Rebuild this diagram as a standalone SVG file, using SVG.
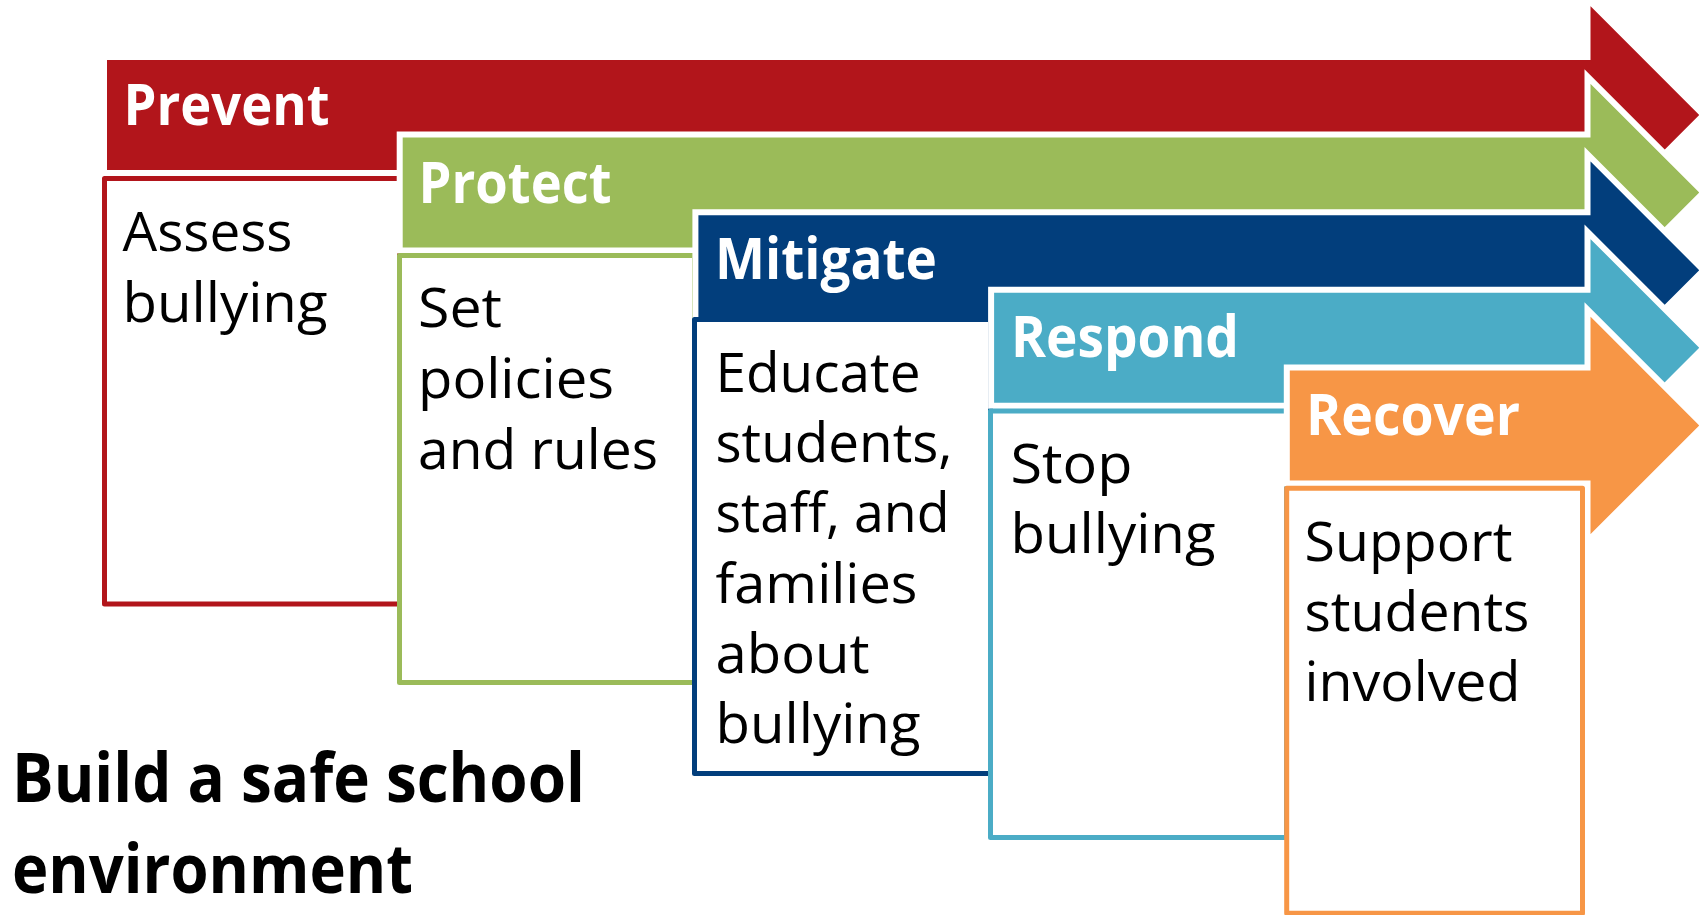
<svg xmlns="http://www.w3.org/2000/svg" width="1699" height="915" viewBox="0 0 1699 915">
<style>
.arrow{stroke:#FFFFFF;stroke-width:6;stroke-linejoin:miter}
.box{fill:#FFFFFF;stroke-width:5;stroke-linejoin:round}
.hd{font-family:"Open Sans","Noto Sans","Liberation Sans",sans-serif;font-weight:bold;font-size:58px;fill:#FFFFFF}
.bd{font-family:"Open Sans","Noto Sans","Liberation Sans",sans-serif;font-size:55px;fill:#000000}
.tt{font-family:"Open Sans","Noto Sans","Liberation Sans",sans-serif;font-weight:bold;font-size:68px;fill:#000000}
.red{fill:#B2151B}.redS{stroke:#B2151B}
.grn{fill:#9BBB59}.grnS{stroke:#9BBB59}
.blu{fill:#023E7C}.bluS{stroke:#023E7C}
.aqu{fill:#4BACC6}.aquS{stroke:#4BACC6}
.org{fill:#F79646}.orgS{stroke:#F79646}
</style>
<rect width="1699" height="915" fill="#FFFFFF"/>
<g id="connectors"></g>
<g id="node-prevent">
<polygon class="arrow red" points="104,57 1587.5,57 1587.5,-1 1703.5,115 1587.5,231 1587.5,173 104,173"/>
<rect class="box redS" x="104.5" y="178.5" width="295" height="425.5"/>
<text class="hd" x="123.5" y="125" textLength="206" lengthAdjust="spacingAndGlyphs">Prevent</text>
<text class="bd" x="122.5" y="250.7" textLength="170" lengthAdjust="spacingAndGlyphs">Assess</text>
<text class="bd" x="122.5" y="321.7" textLength="205" lengthAdjust="spacingAndGlyphs">bullying</text>
</g>
<g id="node-protect">
<polygon class="arrow grn" points="399.7,134.6 1587.5,134.6 1587.5,76.6 1703.5,192.6 1587.5,308.6 1587.5,250.6 399.7,250.6"/>
<rect class="box grnS" x="399.5" y="255.5" width="295" height="427"/>
<text class="hd" x="418.5" y="202.7" textLength="193" lengthAdjust="spacingAndGlyphs">Protect</text>
<text class="bd" x="418" y="327.3" textLength="84" lengthAdjust="spacingAndGlyphs">Set</text>
<text class="bd" x="418" y="398" textLength="196" lengthAdjust="spacingAndGlyphs">policies</text>
<text class="bd" x="418" y="468.7" textLength="240" lengthAdjust="spacingAndGlyphs">and rules</text>
</g>
<g id="node-mitigate">
<polygon class="arrow blu" points="695.4,212.2 1587.5,212.2 1587.5,154.2 1703.5,270.2 1587.5,386.2 1587.5,328.2 695.4,328.2"/>
<rect class="box bluS" x="694.5" y="319.5" width="296" height="454"/>
<text class="hd" x="715" y="279.3" textLength="222" lengthAdjust="spacingAndGlyphs">Mitigate</text>
<text class="bd" x="715.5" y="391.7" textLength="205" lengthAdjust="spacingAndGlyphs">Educate</text>
<text class="bd" x="715.5" y="462" textLength="237" lengthAdjust="spacingAndGlyphs">students,</text>
<text class="bd" x="715.5" y="532.3" textLength="234" lengthAdjust="spacingAndGlyphs">staff, and</text>
<text class="bd" x="715.5" y="602.6" textLength="202" lengthAdjust="spacingAndGlyphs">families</text>
<text class="bd" x="715.5" y="673" textLength="154" lengthAdjust="spacingAndGlyphs">about</text>
<text class="bd" x="715.5" y="743.3" textLength="205" lengthAdjust="spacingAndGlyphs">bullying</text>
</g>
<g id="node-respond">
<polygon class="arrow aqu" points="991.1,289.8 1587.5,289.8 1587.5,231.8 1703.5,347.8 1587.5,463.8 1587.5,405.8 991.1,405.8"/>
<rect class="box aquS" x="990.5" y="411" width="296" height="426.5"/>
<text class="hd" x="1011" y="356.7" textLength="228" lengthAdjust="spacingAndGlyphs">Respond</text>
<text class="bd" x="1010.5" y="483.3" textLength="122" lengthAdjust="spacingAndGlyphs">Stop</text>
<text class="bd" x="1010.5" y="553.3" textLength="205" lengthAdjust="spacingAndGlyphs">bullying</text>
</g>
<g id="node-recover">
<polygon class="arrow org" points="1286.8,367.4 1587.5,367.4 1587.5,309.4 1703.5,425.4 1587.5,541.4 1587.5,483.4 1286.8,483.4"/>
<rect class="box orgS" x="1286.7" y="488.3" width="295.8" height="425"/>
<text class="hd" x="1306" y="435" textLength="214" lengthAdjust="spacingAndGlyphs">Recover</text>
<text class="bd" x="1304.5" y="560.7" textLength="208" lengthAdjust="spacingAndGlyphs">Support</text>
<text class="bd" x="1304.5" y="630.7" textLength="225" lengthAdjust="spacingAndGlyphs">students</text>
<text class="bd" x="1304.5" y="700.7" textLength="216" lengthAdjust="spacingAndGlyphs">involved</text>
</g>
<g id="node-title">
<text class="tt" x="12" y="801.7" textLength="573" lengthAdjust="spacingAndGlyphs">Build a safe school</text>
<text class="tt" x="12" y="892.7" textLength="401" lengthAdjust="spacingAndGlyphs">environment</text>
</g>
</svg>
